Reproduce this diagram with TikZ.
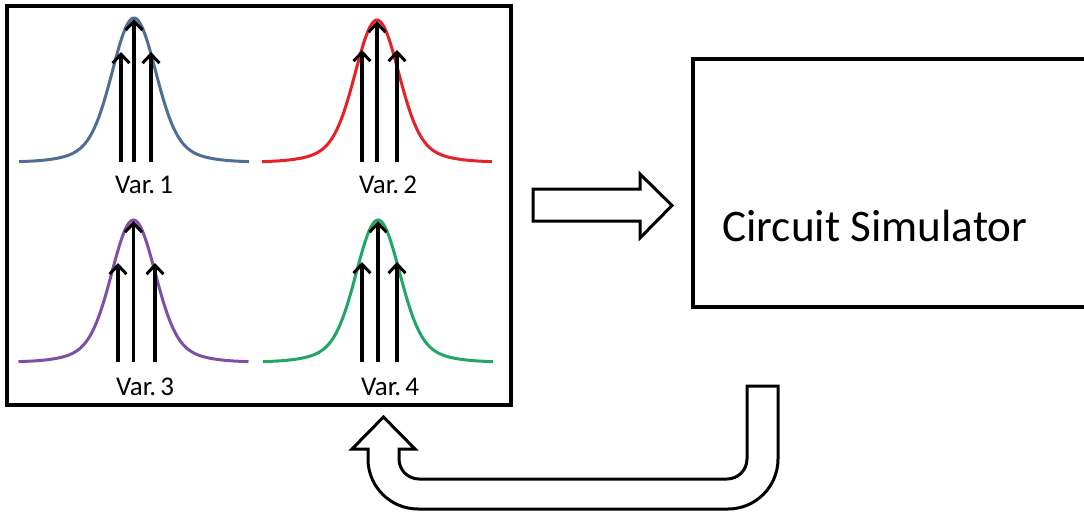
\documentclass[tikz,border=0pt]{standalone}
\usepackage{fontspec}
\setmainfont{Carlito}
\usetikzlibrary{arrows.meta}
\definecolor{cblue}{HTML}{4E6E95}
\definecolor{cred}{HTML}{E62228}
\definecolor{cpurple}{HTML}{7E4FA6}
\definecolor{cgreen}{HTML}{1FA763}
\tikzset{
  frame/.style={draw=black, line width=1.7pt, rectangle, inner sep=0pt},
  bell/.style={line width=1.5pt},
  sample/.style={line width=1.7pt, -{Straight Barb[length=4.5pt,width=8.5pt,line width=1.5pt]}},
  varlabel/.style={anchor=base, inner sep=0pt, font=\fontsize{13.5}{15}\selectfont},
  bigarrow/.style={draw=black, line width=1.5pt, fill=white, line join=miter},
}
\newcommand{\varname}[1]{Var.\hspace{0.15em}#1}
\begin{document}
\begin{tikzpicture}[x=0.5pt, y=-0.5pt]
\useasboundingbox (0,0) rectangle (1084,514);
\fill[white] (0,0) rectangle (1084,514);

% boxes
\node[frame, minimum width=252pt, minimum height=199.5pt] (vars) at (259,205.5) {};
\node[frame, minimum width=198.5pt, minimum height=124pt] (sim) at (891.5,183) {};
\node[anchor=base west, inner sep=0pt, font=\fontsize{22.6}{26}\selectfont] (simtext) at (722,242) {Circuit Simulator};

% bell curves
\newcommand{\bellcurve}[4]{% color, cx, base, height
  \draw[bell, #1] plot[domain=-115:115, samples=120, smooth]
    ({#2+\x}, {#3-#4*(0.85*exp(-\x*\x/880)+0.15*exp(-\x*\x/3300))});
}
\bellcurve{cblue}{134}{162}{144}
\bellcurve{cred}{377}{162}{142}
\bellcurve{cpurple}{133.5}{362}{142}
\bellcurve{cgreen}{378}{362}{142}

% sample arrows
\foreach \n/\x/\yb/\yt in {a1/121/162/52, a2/134/162/19, a3/151/162/52,
                          b1/362/162/50, b2/377/162/21, b3/397/162/50,
                          c1/118/362/263, c2/133.5/362/221, c3/155/362/263,
                          d1/362/362/262, d2/378/362/221, d3/397/362/262}{
  \coordinate (\n s) at (\x,\yb);
  \coordinate (\n t) at (\x,\yt);
  \draw[sample] (\n s) -- (\n t);
}

% labels
\node[varlabel] (l1) at (144,193) {\varname{1}};
\node[varlabel] (l2) at (388,193) {\varname{2}};
\node[varlabel] (l3) at (145,395) {\varname{3}};
\node[varlabel] (l4) at (390,395) {\varname{4}};

% right block arrow
\draw[bigarrow] (533,189) -- (640,189) -- (640,174) -- (672,205.5) -- (640,238) -- (640,221) -- (533,221) -- cycle;

% U-turn block arrow
\draw[bigarrow] (383.5,417) -- (415,449) -- (399,449)
  [rounded corners=10pt] -- (399,479) -- (747,479) [sharp corners] -- (747,386)
  -- (778,386) [rounded corners=25pt] -- (778,509) -- (368,509) [sharp corners] -- (368,449)
  -- (352,449) -- cycle;
\end{tikzpicture}
\end{document}
